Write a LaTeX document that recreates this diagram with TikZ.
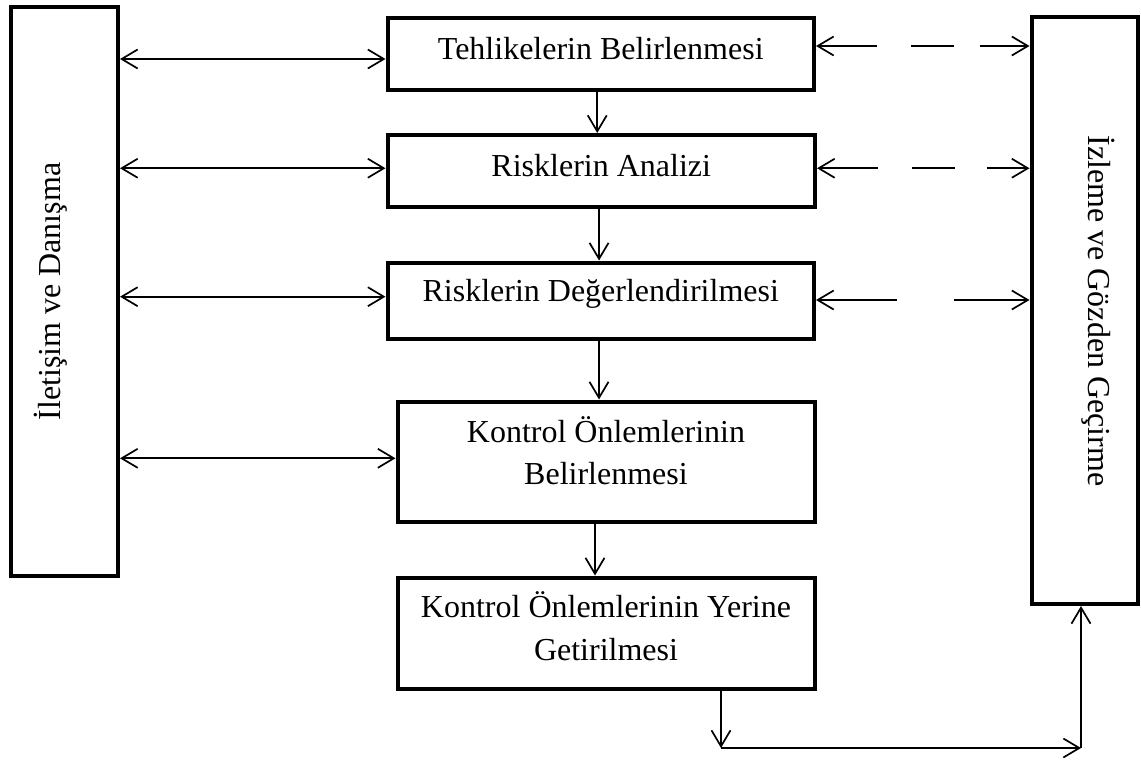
\documentclass[tikz,border=0pt]{standalone}
\usepackage{fontspec}
\setmainfont{Liberation Serif}
\usetikzlibrary{arrows.meta,calc}
\begin{document}
\begin{tikzpicture}[x=1pt,y=-1pt,
  every node/.style={font=\fontsize{32}{42}\selectfont},
  boxthick/.style={draw, line width=4pt, rectangle, inner sep=0pt, align=center},
  conn/.style={line width=1.7pt},
  tip/.style={conn,-{Straight Barb[length=16pt,width=19pt]}},
  dbl/.style={conn,{Straight Barb[length=16pt,width=19pt]}-{Straight Barb[length=16pt,width=19pt]}}
]
\useasboundingbox (0,0) rectangle (1141,761);

% side boxes
\node[boxthick, minimum width=107pt, minimum height=569pt] (L) at (64.5,291.5) {};
\node[rotate=90, anchor=base] (Lt) at ($(L.center)+(-3.8,0)$) {İletişim ve Danışma};
\node[boxthick, minimum width=106.5pt, minimum height=587pt] (R) at (1084.75,310.5) {};
\node[rotate=-90, anchor=base] (Rt) at ($(R.center)+(3.5,0.5)$) {İzleme ve Gözden Geçirme};

% process boxes
\node[boxthick, minimum width=426.5pt, minimum height=72pt, text height=22pt, text depth=10pt] (b1) at (600.75,53.5) {Tehlikelerin Belirlenmesi};
\node[boxthick, minimum width=427.5pt, minimum height=71.5pt, text height=22pt, text depth=11pt] (b2) at (601.25,170.75) {Risklerin Analizi};
\node[boxthick, minimum width=426.5pt, minimum height=76pt, text height=22pt, text depth=20pt] (b3) at (600.75,300.5) {Risklerin Değerlendirilmesi};
\node[boxthick, minimum width=417pt, minimum height=120pt, text depth=22.5pt] (b4) at (606,461.5) {Kontrol Önlemlerinin\\Belirlenmesi};
\node[boxthick, minimum width=417pt, minimum height=111pt, text depth=14pt, font=\fontsize{32}{43}\selectfont] (b5) at (606,633) {Kontrol Önlemlerinin Yerine\\Getirilmesi};

% left two-way arrows
\draw[dbl] ($(L.east |- b1.west)+(0,5.5)$) -- ($(b1.west)+(0,5.5)$);
\draw[dbl] ($(L.east |- b2.west)+(0,-2.5)$) -- ($(b2.west)+(0,-2.5)$);
\draw[dbl] ($(L.east |- b3.west)+(0,-3.8)$) -- ($(b3.west)+(0,-3.8)$);
\draw[dbl] ($(L.east |- b4.west)+(0,-3.2)$) -- ($(b4.west)+(0,-3.2)$);

% right dashed two-way arrows
\draw[dbl, dash pattern=on 58pt off 34pt on 43pt off 26pt on 200pt] ($(b1.east)+(0,-7.5)$) -- ($(R.west |- b1.east)+(0,-7.5)$);
\draw[dbl, dash pattern=on 58pt off 34pt on 43pt off 32pt on 200pt] ($(b2.east)+(0,-2.5)$) -- ($(R.west |- b2.east)+(0,-2.5)$);
\draw[dbl, dash pattern=on 78pt off 57pt on 200pt] ($(b3.east)+(0,-0.5)$) -- ($(R.west |- b3.east)+(0,-0.5)$);

% downward flow
\draw[tip] ($(b1.south)+(-3.5,0)$) coordinate (s1) -- (s1 |- b2.north);
\draw[tip] ($(b2.south)+(-2.2,0)$) coordinate (s2) -- (s2 |- b3.north);
\draw[tip] ($(b3.south)+(-1.75,0)$) coordinate (s3) -- (s3 |- b4.north);
\draw[tip] ($(b4.south)+(-11,0)$) coordinate (s4) -- (s4 |- b5.north);

% feedback to monitoring
\coordinate (c1) at (721,748);
\coordinate (c2) at (1081,748);
\draw[tip] (c1 |- b5.south) -- (c1);
\draw[tip] (c1) -- (c2);
\draw[tip] (c2) -- (c2 |- R.south);
\end{tikzpicture}
\end{document}
